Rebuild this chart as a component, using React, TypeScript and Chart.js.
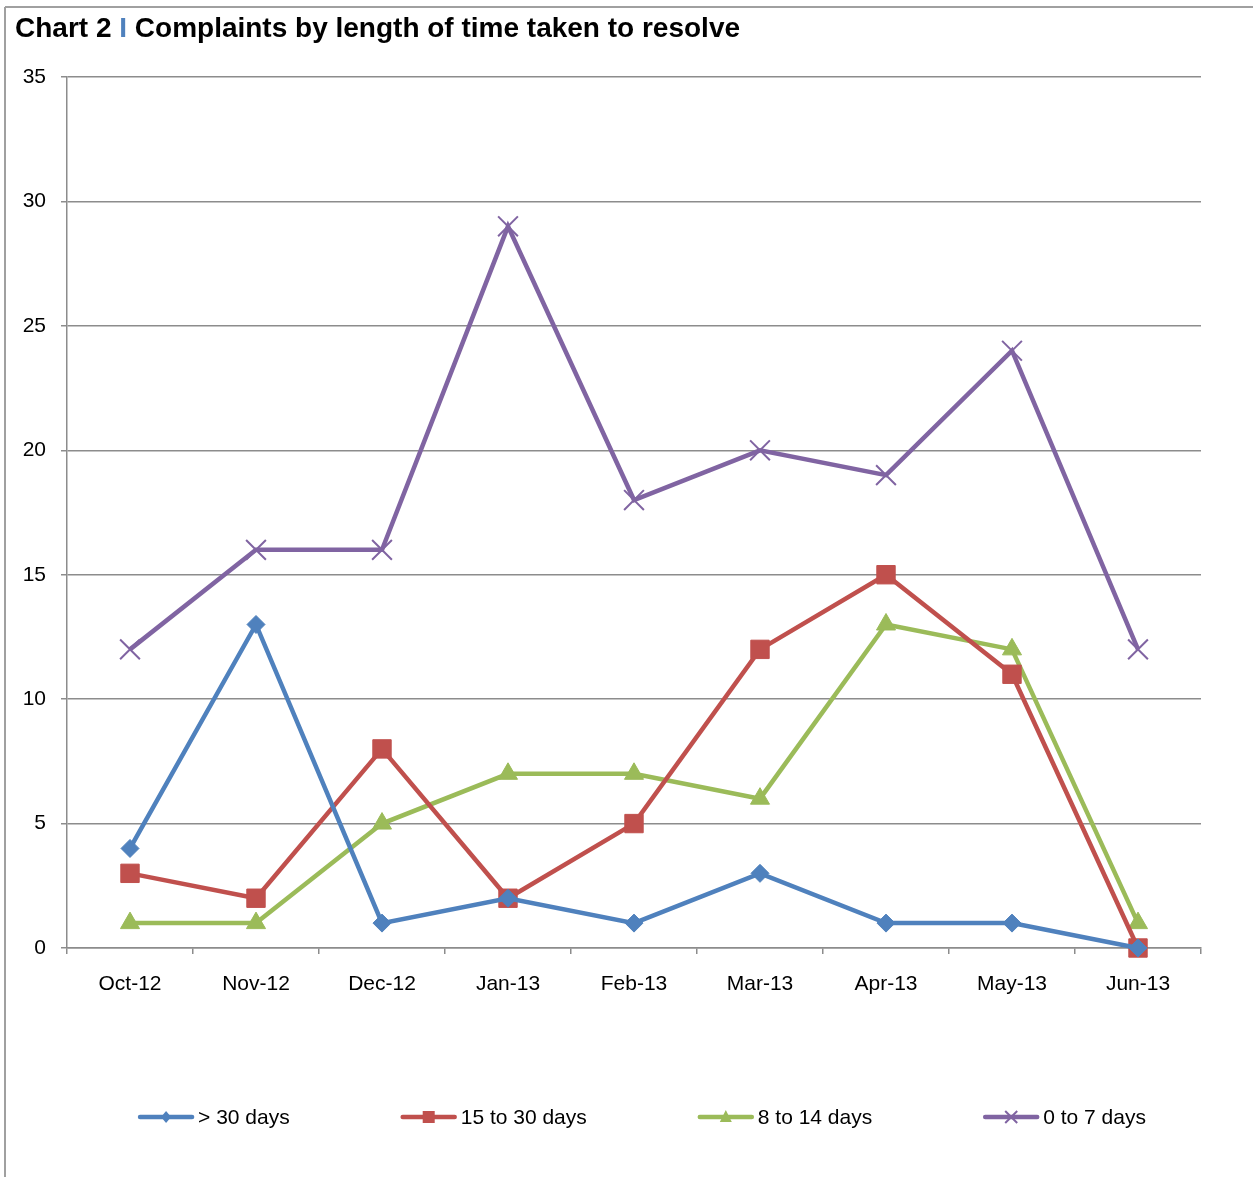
import React, { useEffect, useRef } from "react";
import { Chart, registerables } from "chart.js";

Chart.register(...registerables);

const categories = ["Oct-12", "Nov-12", "Dec-12", "Jan-13", "Feb-13", "Mar-13", "Apr-13", "May-13", "Jun-13"];
const over30 = [4, 13, 1, 2, 1, 3, 1, 1, 0];
const d15to30 = [3, 2, 8, 2, 5, 12, 15, 11, 0];
const d8to14 = [1, 1, 5, 7, 7, 6, 13, 12, 1];
const d0to7 = [12, 16, 16, 29, 18, 20, 19, 24, 12];
const seriesNames = ["> 30 days", "15 to 30 days", "8 to 14 days", "0 to 7 days"];
const seriesColors = ["#4F81BD", "#C0504D", "#9BBB59", "#8064A2"];
const pointStyles = ["rectRot", "rect", "triangle", "crossRot"];
const pointRadii = [9, 13, 11, 14];
const yTicks = [0, 5, 10, 15, 20, 25, 30, 35];
const titleLead = "Chart 2 ";
const titleBar = "I";
const titleRest = " Complaints by length of time taken to resolve";

const FONT = "Arial, 'Liberation Sans', sans-serif";
const GRID = "#8C8C8C";

export default function App() {
  const ref = useRef<HTMLCanvasElement | null>(null);

  useEffect(() => {
    document.body.style.margin = "0";
    const canvas = ref.current!;
    const values = [over30, d15to30, d8to14, d0to7];

    const decor = {
      id: "decor",
      beforeDraw(chart: any) {
        const ctx = chart.ctx;
        ctx.save();
        ctx.fillStyle = "#fff";
        ctx.fillRect(0, 0, chart.width, chart.height);
        ctx.strokeStyle = "#A0A0A0";
        ctx.lineWidth = 2;
        ctx.beginPath();
        ctx.moveTo(5, 7);
        ctx.lineTo(chart.width, 7);
        ctx.moveTo(5, 7);
        ctx.lineTo(5, chart.height);
        ctx.stroke();
        // title
        ctx.font = "bold 28px " + FONT;
        ctx.textBaseline = "alphabetic";
        ctx.textAlign = "left";
        let x = 15;
        const y = 37;
        ctx.fillStyle = "#000";
        ctx.fillText(titleLead, x, y);
        x += ctx.measureText(titleLead).width;
        ctx.fillStyle = "#4F81BD";
        ctx.fillText(titleBar, x, y);
        x += ctx.measureText(titleBar).width;
        ctx.fillStyle = "#000";
        ctx.fillText(titleRest, x, y);
        ctx.restore();
      },
      afterDraw(chart: any) {
        const ctx = chart.ctx;
        ctx.save();
        ctx.font = "21px " + FONT;
        const lineLen = 52;
        const gapText = 6;
        const gapItem = 113;
        const widths = seriesNames.map((n) => lineLen + gapText + ctx.measureText(n).width);
        const total = widths.reduce((a, b) => a + b, 0) + gapItem * (widths.length - 1);
        let x = 643 - total / 2;
        const y = 1117;
        seriesNames.forEach((name, i) => {
          const c = seriesColors[i];
          ctx.strokeStyle = c;
          ctx.lineWidth = 4.5;
          ctx.lineCap = "round";
          ctx.beginPath();
          ctx.moveTo(x, y);
          ctx.lineTo(x + lineLen, y);
          ctx.stroke();
          ctx.fillStyle = c;
          ctx.strokeStyle = c;
          ctx.lineCap = "butt";
          const cx = x + lineLen / 2;
          const st = pointStyles[i];
          if (st === "rectRot") {
            ctx.beginPath();
            ctx.moveTo(cx, y - 6);
            ctx.lineTo(cx + 5, y);
            ctx.lineTo(cx, y + 6);
            ctx.lineTo(cx - 5, y);
            ctx.closePath();
            ctx.fill();
          } else if (st === "rect") {
            ctx.fillRect(cx - 6, y - 6, 12, 12);
          } else if (st === "triangle") {
            ctx.beginPath();
            ctx.moveTo(cx, y - 7);
            ctx.lineTo(cx + 6, y + 5);
            ctx.lineTo(cx - 6, y + 5);
            ctx.closePath();
            ctx.fill();
          } else {
            ctx.lineWidth = 2;
            ctx.beginPath();
            ctx.moveTo(cx - 6, y - 6);
            ctx.lineTo(cx + 6, y + 6);
            ctx.moveTo(cx + 6, y - 6);
            ctx.lineTo(cx - 6, y + 6);
            ctx.stroke();
          }
          ctx.fillStyle = "#000";
          ctx.textBaseline = "middle";
          ctx.textAlign = "left";
          ctx.fillText(name, x + lineLen + gapText, y + 1);
          x += widths[i] + gapItem;
        });
        ctx.restore();
      },
    };

    const chart = new Chart(canvas, {
      type: "line",
      data: {
        labels: categories,
        datasets: values.map((v, i) => ({
          label: seriesNames[i],
          data: v,
          borderColor: seriesColors[i],
          backgroundColor: seriesColors[i],
          borderWidth: 4.5,
          pointStyle: pointStyles[i] as any,
          pointRadius: pointRadii[i],
          pointHoverRadius: pointRadii[i],
          pointBorderWidth: pointStyles[i] === "crossRot" ? 2 : 1,
          pointBackgroundColor: seriesColors[i],
          pointBorderColor: seriesColors[i],
          tension: 0,
          fill: false,
          clip: false as any,
        })),
      },
      options: {
        animation: false,
        responsive: false,
        maintainAspectRatio: false,
        layout: { padding: { left: 0, right: 52, top: 77, bottom: 0 } },
        plugins: {
          legend: { display: false },
          title: { display: false },
          tooltip: { enabled: false },
        },
        scales: {
          x: {
            type: "category",
            offset: true,
            grid: {
              offset: true,
              drawOnChartArea: false,
              drawTicks: true,
              tickLength: 6,
              color: GRID,
              lineWidth: 1.5,
            },
            border: { display: true, color: GRID, width: 1.5 },
            ticks: {
              color: "#000",
              font: { family: FONT, size: 21 },
              padding: 18,
              maxRotation: 0,
              autoSkip: false,
            },
            afterFit(scale: any) {
              scale.height = 229;
            },
          },
          y: {
            min: 0,
            max: 35,
            afterBuildTicks(scale: any) {
              scale.ticks = yTicks.map((v) => ({ value: v }));
            },
            grid: {
              color: GRID,
              lineWidth: 1.5,
              drawTicks: true,
              tickLength: 6,
            },
            border: { display: true, color: GRID, width: 1.5 },
            ticks: {
              color: "#000",
              font: { family: FONT, size: 21 },
              padding: 15,
            },
            afterFit(scale: any) {
              scale.width = 67;
            },
          },
        },
      },
      plugins: [decor],
    });
    return () => chart.destroy();
  }, []);

  return (
    <canvas
      ref={ref}
      width={1253}
      height={1177}
      style={{ display: "block", width: 1253, height: 1177 }}
    />
  );
}
